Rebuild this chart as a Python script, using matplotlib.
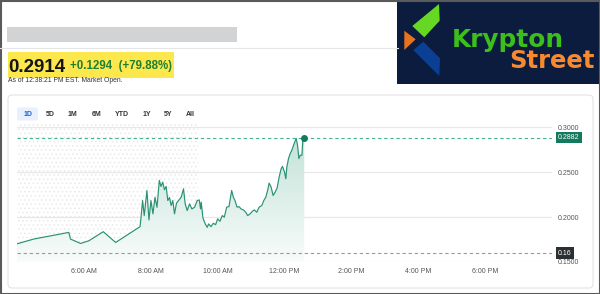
import numpy as np
import matplotlib
matplotlib.use("Agg")
from matplotlib import pyplot as plt
from matplotlib.patches import Rectangle, FancyBboxPatch, Polygon
from matplotlib.colors import LinearSegmentedColormap

plt.rcParams['font.family'] = ['Liberation Sans', 'DejaVu Sans']
plt.rcParams['hatch.linewidth'] = 0.6

# intraday price, hours since midnight
hours = [4.00, 4.50, 5.55, 5.60, 5.90, 6.15, 6.58, 6.95, 7.68, 7.705, 7.756, 7.805,
         7.886, 7.946, 8.006, 8.066, 8.127, 8.187, 8.256, 8.307, 8.358, 8.41, 8.46,
         8.51, 8.56, 8.61, 8.66, 8.71, 8.77, 8.83, 8.91, 8.98, 9.03, 9.09, 9.16,
         9.23, 9.31, 9.39, 9.45, 9.49, 9.51, 9.56, 9.63, 9.69, 9.73, 9.80, 9.87,
         9.94, 10.00, 10.07, 10.14, 10.20, 10.27, 10.34, 10.42, 10.47, 10.52, 10.58,
         10.64, 10.70, 10.77, 10.84, 10.90, 10.97, 11.04, 11.10, 11.17, 11.24, 11.32,
         11.38, 11.44, 11.50, 11.54, 11.60, 11.66, 11.72, 11.78, 11.84, 11.90, 11.94,
         12.00, 12.04, 12.07, 12.12, 12.17, 12.22, 12.29, 12.35, 12.39, 12.43, 12.47,
         12.52, 12.55, 12.59]
prices = [0.1702, 0.1755, 0.1829, 0.1755, 0.1706, 0.1736, 0.1837, 0.1717, 0.1893,
          0.1979, 0.2183, 0.2016, 0.2295, 0.1967, 0.2183, 0.2035, 0.2220, 0.2108,
          0.2407, 0.2340, 0.2388, 0.2303, 0.2340, 0.2183, 0.2217, 0.2128, 0.2183,
          0.2035, 0.2154, 0.2183, 0.2220, 0.2314, 0.2146, 0.2072, 0.2146, 0.2090,
          0.2109, 0.2183, 0.2190, 0.2090, 0.2165, 0.1990, 0.1923, 0.1885, 0.1923,
          0.1893, 0.1930, 0.1915, 0.1979, 0.1953, 0.2016, 0.1998, 0.2109, 0.2116,
          0.2295, 0.2220, 0.2183, 0.2109, 0.2116, 0.2090, 0.2079, 0.2053, 0.2016,
          0.2035, 0.2064, 0.2079, 0.2053, 0.2109, 0.2128, 0.2183, 0.2220, 0.2303,
          0.2377, 0.2332, 0.2239, 0.2276, 0.2325, 0.2444, 0.2537, 0.2563, 0.2500,
          0.2425, 0.2556, 0.2650, 0.2706, 0.2743, 0.2818, 0.2874, 0.2799, 0.2650,
          0.2687, 0.2687, 0.2874, 0.2882]
vol_hours = [9.45, 10.5, 11.92]
vol_tops = [0.1605, 0.1773, 0.1848]

last_price = 0.2882
prev_close = 0.16
yticks = [0.15, 0.20, 0.25, 0.30]
xticks = [6, 8, 10, 12, 14, 16, 18]
xlabels = ["6:00 AM", "8:00 AM", "10:00 AM", "12:00 PM", "2:00 PM", "4:00 PM", "6:00 PM"]
ranges = ["1D", "5D", "1M", "6M", "YTD", "1Y", "5Y", "All"]

W, H = 600, 294
fig = plt.figure(figsize=(6, 2.94), dpi=100)

# page layer in pixel coordinates
bg = fig.add_axes([0, 0, 1, 1], zorder=0)
bg.set_xlim(0, W)
bg.set_ylim(H, 0)
bg.axis('off')

bg.add_patch(Rectangle((7, 27), 230, 15, color='#d2d3d5', lw=0))
bg.plot([0, 398], [48, 48], color='#e6e6e6', lw=0.8)
bg.add_patch(Rectangle((8, 52), 166, 25.5, color='#fce74d', lw=0))
bg.text(8, 72, "0.2914", fontsize=13.5, fontweight='bold', color='#141414')
bg.text(70.5, 68.5, "+0.1294  (+79.88%)", fontsize=8.3, fontweight='bold', color='#1d7f33')
bg.text(8, 82.5, "As of 12:38:21 PM EST. Market Open.", fontsize=4.9, color='#333333')

# logo
bg.add_patch(Rectangle((397, 1), 203, 83, color='#0b1c3f', lw=0))
bg.add_patch(Polygon([(412.3, 26), (439, 4), (439.7, 20.7), (424.3, 37.3)], color='#66d823', lw=0))
bg.add_patch(Polygon([(404.3, 30.7), (404.3, 50), (415.7, 39.3)], color='#e8731c', lw=0))
bg.add_patch(Polygon([(413.3, 50), (423.3, 41.7), (440, 58.3), (439.3, 76)], color='#0b3f94', lw=0))
bg.text(452, 46.5, "Krypton", fontsize=17.8, fontweight='bold', color='#3cbf1c', family='DejaVu Sans')
bg.text(509, 68.5, "Street", fontsize=17.5, fontweight='bold', color='#f7892f', family='DejaVu Sans')

# chart card
bg.add_patch(FancyBboxPatch((8, 95), 585, 193, boxstyle='round,pad=0,rounding_size=4',
                            fc='white', ec='#e3e3e3', lw=0.8))
bg.add_patch(FancyBboxPatch((17, 107.5), 21, 13, boxstyle='round,pad=0,rounding_size=2',
                            fc='#e8f0fd', ec='none'))
btn_x = [27.5, 50, 72.7, 96.3, 122.3, 146.7, 168.3, 190]
for lab, bx in zip(ranges, btn_x):
    bg.text(bx, 114.5, lab, fontsize=5, fontweight='bold', ha='center', va='center',
            color='#1a5fd0' if lab == "1D" else '#333333')

# outer frame
bg.add_patch(Rectangle((0.5, 0.5), W - 1, H - 1, fill=False, ec='#5a5a5a', lw=1.5))

# price chart
ylo, yhi = 0.15, 0.3045
ax = fig.add_axes([17 / W, (H - 262) / H, (552 - 17) / W, (262 - 123) / H], zorder=2)
ax.set_facecolor('none')
ax.axvspan(4, 9.4, hatch='....', fill=False, edgecolor='#e9e9e9', lw=0, zorder=0)
for yt in yticks:
    ax.axhline(yt, color='#e8e8e8', lw=0.9, zorder=0.5)
ax.vlines(vol_hours, ylo, vol_tops, color='#e2e2e2', lw=0.8, zorder=0.6)

t = np.array(hours)
p = np.array(prices)
poly = ax.fill_between(t, p, ylo, color='none', lw=0)
grad = np.linspace(0, 1, 256).reshape(-1, 1)
cmap = LinearSegmentedColormap.from_list('g', ['#f8fcfb', '#c3e2d8'])
im = ax.imshow(grad, extent=[t[0], t[-1], ylo, 0.29], origin='lower', aspect='auto',
               cmap=cmap, zorder=1)
im.set_clip_path(poly.get_paths()[0], transform=ax.transData)

ax.plot(t, p, color='#2a9175', lw=0.85, zorder=3)
ax.plot(t[-1], p[-1], 'o', color='#137a5e', ms=4, zorder=4)
ax.axhline(last_price, color='#48b394', lw=0.8, dashes=(3, 2.5), zorder=2)
ax.axhline(prev_close, color='#9a9a9a', lw=0.8, dashes=(3, 2.5), zorder=2)

ax.set_xlim(4, 20)
ax.set_ylim(ylo, yhi)
for s in ax.spines.values():
    s.set_visible(False)
ax.yaxis.tick_right()
ax.set_yticks(yticks, [f"{v:.4f}" for v in yticks])
ax.set_xticks(xticks, xlabels)
ax.tick_params(length=0, labelsize=5, labelcolor='#555555')
ax.tick_params(axis='y', pad=4.3)
ax.tick_params(axis='x', pad=4.6)

ax.text(1.011, last_price, f"{last_price:.4f}", transform=ax.get_yaxis_transform(),
        fontsize=5, color='white', va='center', ha='left', zorder=5, clip_on=False,
        bbox=dict(boxstyle='square,pad=0.3', fc='#137a5e', ec='none'))
ax.text(1.011, prev_close, "0.16", transform=ax.get_yaxis_transform(),
        fontsize=5, color='white', va='center', ha='left', zorder=5, clip_on=False,
        bbox=dict(boxstyle='square,pad=0.3', fc='#2a3033', ec='none'))

fig.savefig("out.png", dpi=100)
